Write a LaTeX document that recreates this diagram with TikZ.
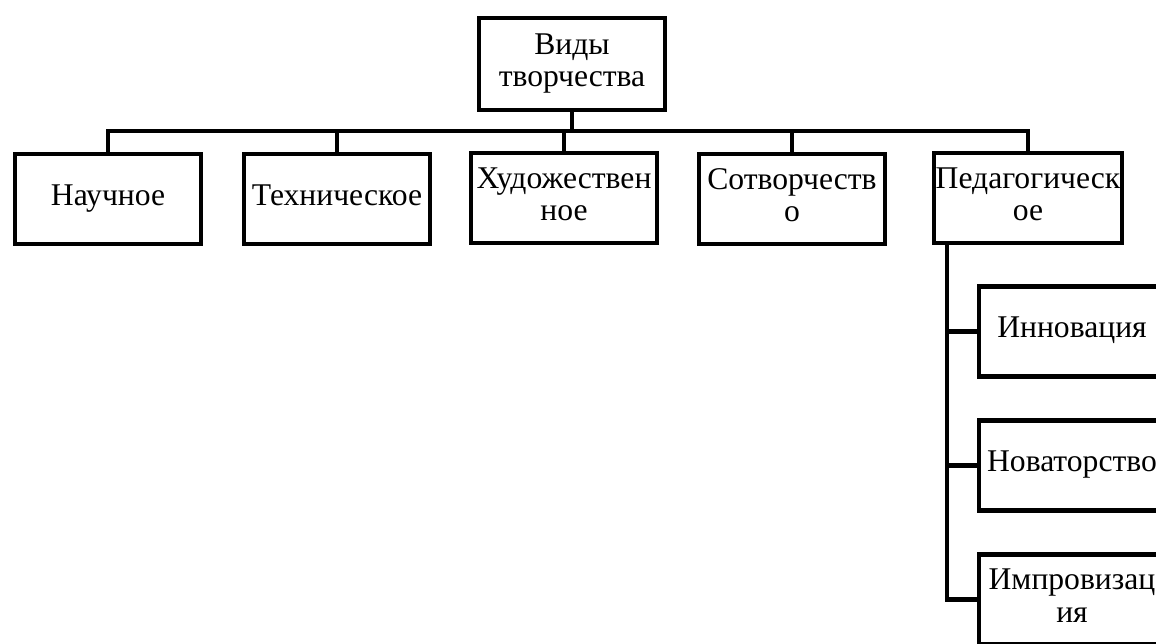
\documentclass[tikz,border=0pt]{standalone}
\usepackage{fontspec}
\setmainfont{Liberation Serif}
\usetikzlibrary{calc}

\begin{document}
\begin{tikzpicture}[x=0.02cm, y=-0.02cm, line width=2.4pt,
  every node/.style={font=\fontsize{18}{18.5}\selectfont},
  kind/.style={draw, rectangle, align=center, inner sep=1pt,
    minimum width=3.72cm, minimum height=1.8cm}]

% the page
\useasboundingbox (0,0) rectangle (1156,644);
\clip (0,0) rectangle (1156,644);

% the top box
\node[kind, minimum height=1.84cm] (vidy) at (572,64) {\strut Виды\\\strut творчества};

% the kinds
\node[kind] (nauch) at (108,199) {\strut Научное};
\node[kind] (tekh) at (337,199) {\strut Техническое};
\node[kind] (khud) at (564,198) {\strut Художествен\\\strut ное};
\node[kind] (sotv) at (792,199) {\strut Сотворчеств\\\strut о};
\node[kind] (ped) at (1028,198) {\strut Педагогическ\\\strut ое};

% the bar
\coordinate (bar) at (572,131);
\draw (vidy.south) -- (bar);
\draw (nauch.north) |- (bar) -| (ped.north);
\draw (tekh.north) -- (tekh.north |- bar);
\draw (khud.north) -- (khud.north |- bar);
\draw (sotv.north) -- (sotv.north |- bar);

% under Pedagogical
\node[kind] (innov) at (1072,331.5) {\strut Инновация};
\node[kind] (novat) at (1072,465.5) {\strut Новаторство};
\node[kind] (improv) at (1072,599.5) {\strut Импровизац\\\strut ия};

\coordinate (spine) at (947,0);
\draw (ped.south -| spine) |- (improv.west);
\draw (ped.south -| spine) |- (innov.west);
\draw (ped.south -| spine) |- (novat.west);

\end{tikzpicture}
\end{document}
